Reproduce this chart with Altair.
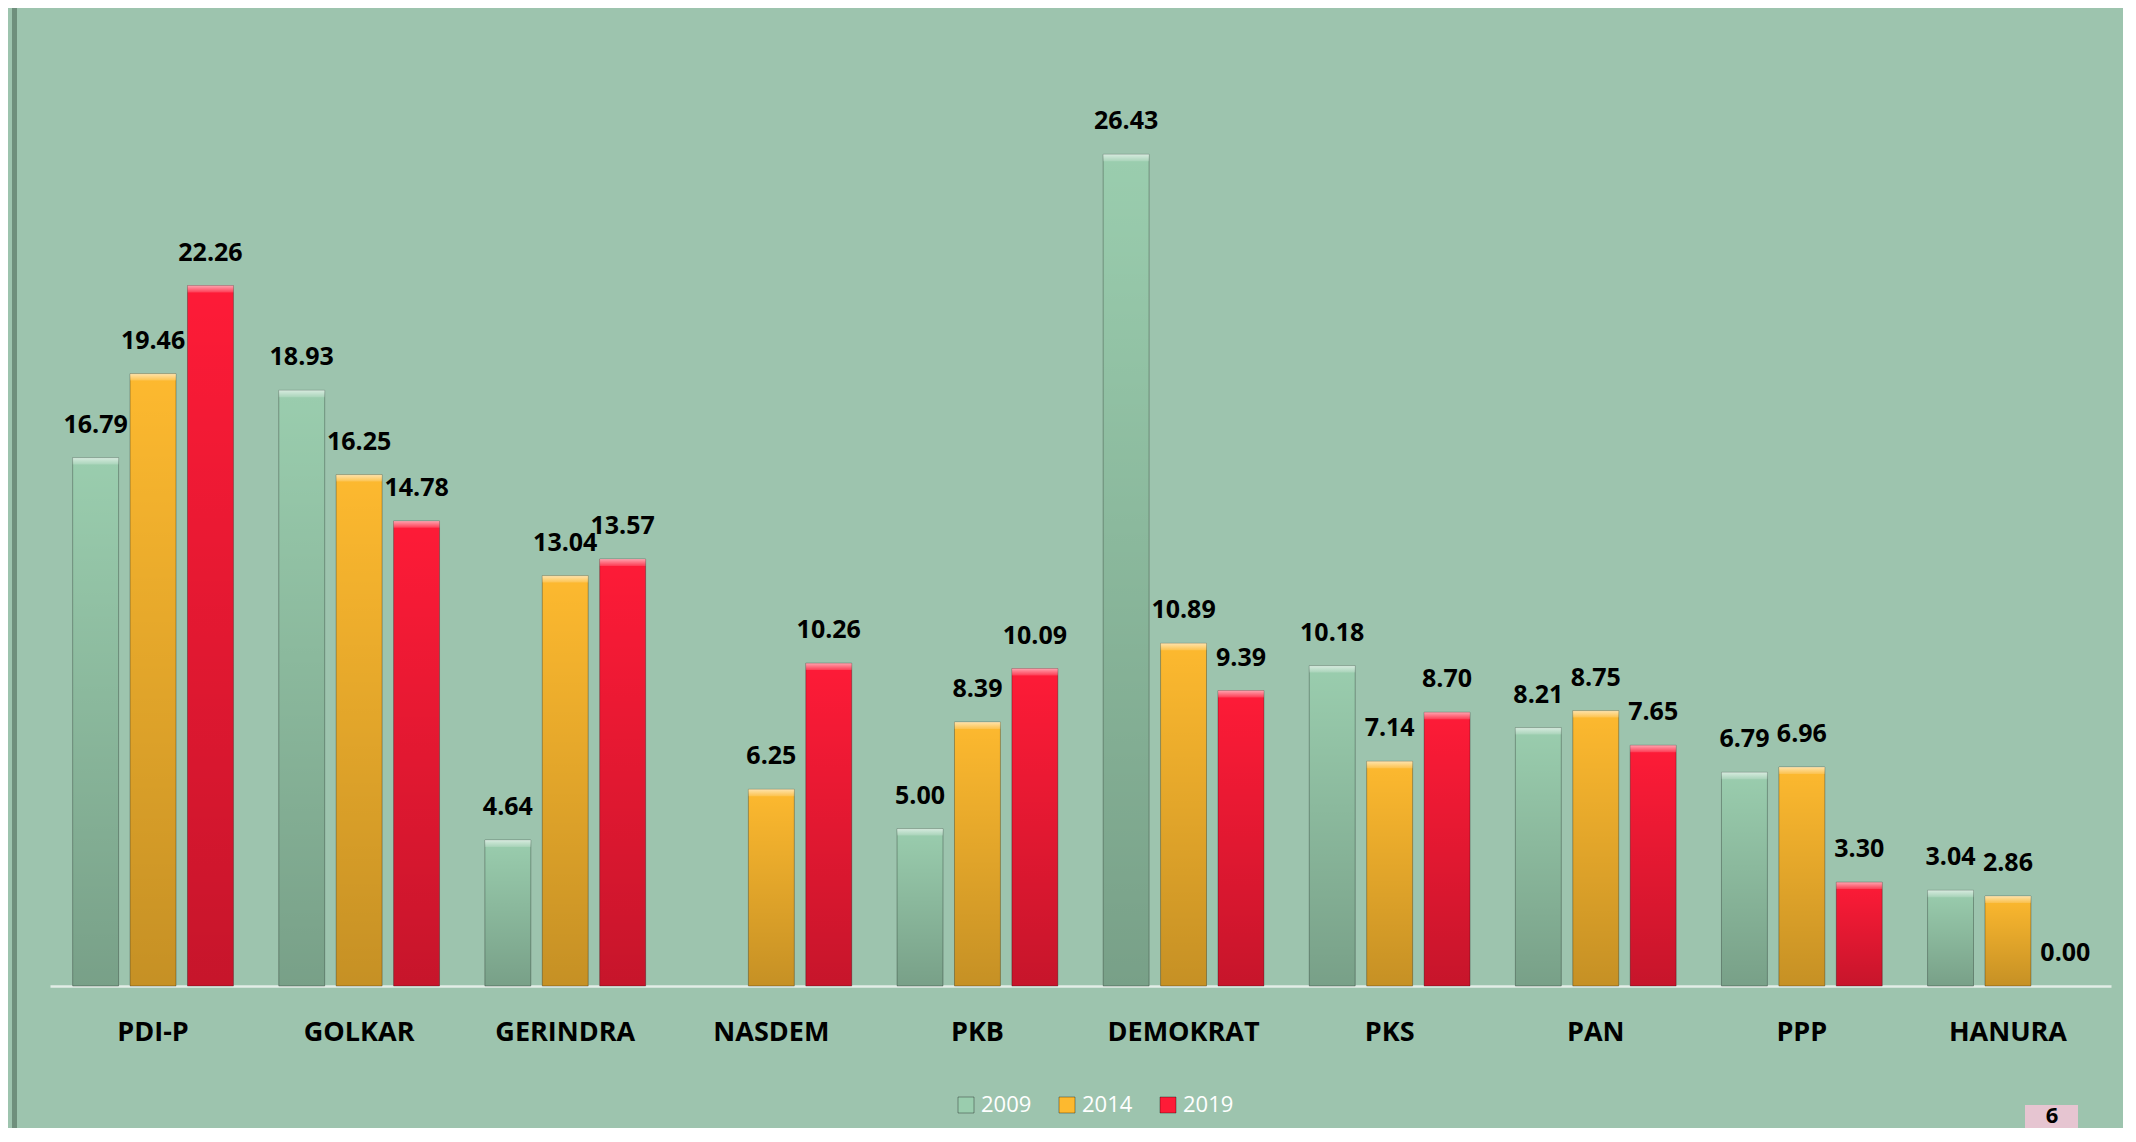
import altair as alt
import pandas as pd

parties = ["PDI-P", "GOLKAR", "GERINDRA", "NASDEM", "PKB", "DEMOKRAT", "PKS", "PAN", "PPP", "HANURA"]
years = ["2009", "2014", "2019"]
v2009 = [16.79, 18.93, 4.64, None, 5.00, 26.43, 10.18, 8.21, 6.79, 3.04]
v2014 = [19.46, 16.25, 13.04, 6.25, 8.39, 10.89, 7.14, 8.75, 6.96, 2.86]
v2019 = [22.26, 14.78, 13.57, 10.26, 10.09, 9.39, 8.70, 7.65, 3.30, 0.00]
colors = ["#9acdae", "#fdb92f", "#fe1b37"]

rows = []
for i, p in enumerate(parties):
    for yr, vals in zip(years, [v2009, v2014, v2019]):
        rows.append({"party": p, "year": yr, "value": vals[i]})
df = pd.DataFrame(rows)

W, H = 2061, 944
FONT = "Open Sans"

x = alt.X("party:N", sort=parties,
          scale=alt.Scale(paddingInner=0.22, paddingOuter=0.11),
          axis=alt.Axis(title=None, labelAngle=0, labelFontSize=27, labelFont=FONT,
                        labelFontWeight="bold", labelColor="black", labelPadding=33,
                        ticks=False, domainColor="#e2ede6", domainWidth=2.5))
xo = alt.XOffset("year:N", scale=alt.Scale(domain=years, paddingInner=0.2, paddingOuter=0))
y = alt.Y("value:Q", scale=alt.Scale(domain=[0, 30]), axis=None)

base = alt.Chart(df).transform_filter("isValid(datum.value)").encode(x=x, xOffset=xo, y=y)

bars = base.transform_filter("datum.value > 0").mark_bar(
    stroke="rgba(0,0,0,0.28)", strokeWidth=1
).encode(
    color=alt.Color("year:N", scale=alt.Scale(domain=years, range=colors),
                    legend=alt.Legend(orient="none", legendX=905, legendY=1052,
                                      direction="horizontal", title=None,
                                      labelFontSize=22, labelColor="white", labelFont=FONT,
                                      symbolType="square", symbolSize=256,
                                      symbolStrokeColor="rgba(0,0,0,0.35)", symbolStrokeWidth=1,
                                      symbolOpacity=1, columnPadding=24, labelOffset=4))
)

shade = base.transform_filter("datum.value > 0").mark_bar(
    color=alt.LinearGradient(
        gradient="linear",
        stops=[alt.GradientStop(color="rgba(0,0,0,0)", offset=0),
               alt.GradientStop(color="rgba(0,0,0,0.22)", offset=1)],
        x1=0, x2=0, y1=0, y2=1)
)

bevel = base.transform_filter("datum.value > 0").transform_calculate(
    top2="datum.value - 0.22"
).mark_bar(
    color=alt.LinearGradient(
        gradient="linear",
        stops=[alt.GradientStop(color="rgba(255,255,255,0.6)", offset=0),
               alt.GradientStop(color="rgba(255,255,255,0.15)", offset=1)],
        x1=0, x2=0, y1=0, y2=1)
).encode(y2="top2:Q")

labels = base.mark_text(dy=-25, baseline="alphabetic", font=FONT, fontSize=25,
                        fontWeight="bold", color="black").encode(
    text=alt.Text("value:Q", format=".2f"))

deco = pd.DataFrame({"a": [0]})
left_border = alt.Chart(deco).mark_rule(color="#6f8f7c", strokeWidth=5).encode(
    x=alt.value(-35.5), y=alt.value(-40), y2=alt.value(1100))
pink = alt.Chart(deco).mark_rect(color="#e6c5d1").encode(
    x=alt.value(1975), x2=alt.value(2028), y=alt.value(1063), y2=alt.value(1100))
six = alt.Chart(deco).mark_text(text="6", font=FONT, fontSize=22, fontWeight="bold",
                                color="black", baseline="middle").encode(
    x=alt.value(2002), y=alt.value(1074))

chart = alt.layer(bars, shade, bevel, labels, left_border, pink, six).properties(
    width=W, height=H,
    autosize=alt.AutoSizeParams(type="none"),
    padding={"left": 42, "top": 34, "right": 12, "bottom": 142},
    background="#9dc4ae",
).configure(font=FONT).configure_view(stroke=None, strokeWidth=0)

chart.save("out.html", embed_options={"renderer": "svg", "actions": False})
